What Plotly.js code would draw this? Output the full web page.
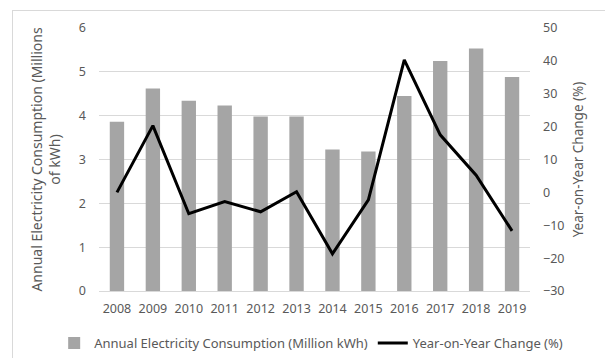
<!DOCTYPE html>
<html>
<head>
<meta charset="utf-8">
<script src="https://cdn.plot.ly/plotly-3.0.1.min.js"></script>
<style>
html,body{margin:0;padding:0;background:#fff;}
#wrap{position:relative;width:605px;height:358px;overflow:hidden;}
#frame{position:absolute;left:12px;top:10px;width:700px;height:400px;border:1px solid #d9d9d9;box-sizing:border-box;pointer-events:none;}
#chart{position:absolute;left:0;top:0;width:605px;height:358px;}
</style>
</head>
<body>
<div id="wrap">
<div id="chart"></div>
<div id="frame"></div>
</div>
<script>
const years = ['2008','2009','2010','2011','2012','2013','2014','2015','2016','2017','2018','2019'];
const consumption = [3.86, 4.62, 4.34, 4.23, 3.98, 3.98, 3.23, 3.18, 4.45, 5.25, 5.53, 4.88];
const yoyChange = [0, 20.3, -6.5, -2.8, -5.9, 0.2, -18.7, -2.3, 40.3, 17.5, 5.2, -11.7];
const leftTicks = [0, 1, 2, 3, 4, 5, 6];
const rightTicks = [-30, -20, -10, 0, 10, 20, 30, 40, 50];

const font = {family: 'Noto Sans, Open Sans, sans-serif', size: 12.5, color: '#595959'};

const traces = [
  {
    type: 'bar', x: years, y: consumption,
    name: 'Annual Electricity Consumption (Million kWh)',
    marker: {color: '#a5a5a5'}, yaxis: 'y'
  },
  {
    type: 'scatter', mode: 'lines', x: years, y: yoyChange,
    name: 'Year-on-Year Change (%)',
    line: {color: '#000000', width: 3}, yaxis: 'y2'
  }
];

const layout = {
  width: 605, height: 358,
  margin: {l: 99, r: 75, t: 28, b: 67, autoexpand: false},
  paper_bgcolor: '#ffffff', plot_bgcolor: '#ffffff',
  font: font,
  bargap: 0.6,
  showlegend: true,
  legend: {orientation: 'h', x: -0.104, xanchor: 'left', y: -0.198, yanchor: 'middle',
           font: Object.assign({}, font, {size: 13}), traceorder: 'normal', itemwidth: 30, tracegroupgap: 0},
  xaxis: {
    type: 'category', showgrid: false, zeroline: false,
    showline: true, linecolor: '#d9d9d9', linewidth: 1,
    ticks: '', tickfont: font, ticklabelstandoff: 6
  },
  yaxis: {
    range: [0, 6], tickvals: leftTicks, showgrid: true, gridcolor: '#d9d9d9', gridwidth: 1,
    zeroline: false, showline: false, ticks: '', tickfont: font, ticklabelstandoff: 12,
    title: {text: 'Annual Electricity Consumption (Millions<br>of kWh)', font: Object.assign({}, font, {size: 14}), standoff: 14}
  },
  yaxis2: {
    range: [-30, 50], tickvals: rightTicks, overlaying: 'y', side: 'right',
    showgrid: false, zeroline: false, showline: false, ticks: '', tickfont: font, ticklabelstandoff: 12,
    title: {text: 'Year-on-Year Change (%)', font: Object.assign({}, font, {size: 13.5}), standoff: 10}
  }
};

Plotly.newPlot('chart', traces, layout, {staticPlot: true, displayModeBar: false});
</script>
</body>
</html>
